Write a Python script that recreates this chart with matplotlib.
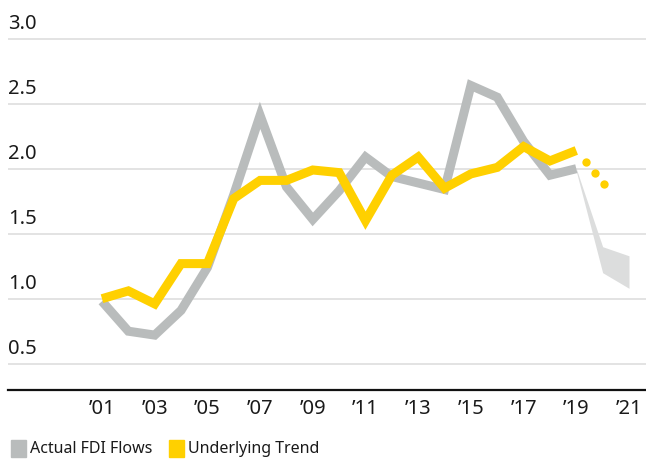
import matplotlib
matplotlib.use("Agg")
import matplotlib.pyplot as plt
from matplotlib.patches import Patch

plt.rcParams['font.family'] = ['Noto Sans', 'DejaVu Sans']

years = list(range(2001, 2020))
actual = [0.98, 0.75, 0.72, 0.91, 1.24, 1.80, 2.41, 1.86, 1.61, 1.83, 2.09,
          1.94, 1.89, 1.84, 2.64, 2.55, 2.21, 1.95, 2.00]
trend = [1.00, 1.06, 0.96, 1.27, 1.27, 1.77, 1.91, 1.91, 1.99, 1.97, 1.60,
         1.95, 2.09, 1.85, 1.96, 2.01, 2.17, 2.06, 2.14]
proj_years = [2019, 2020, 2021]
proj_low = [1.98, 1.20, 1.08]
proj_high = [2.00, 1.40, 1.33]
dot_years = [2019.35, 2019.7, 2020.05]
dot_vals = [2.05, 1.97, 1.88]
yticks = [0.5, 1.0, 1.5, 2.0, 2.5, 3.0]
xticks = [2001, 2003, 2005, 2007, 2009, 2011, 2013, 2015, 2017, 2019, 2021]
xlabels = ["\u201901", "\u201903", "\u201905", "\u201907", "\u201909", "\u201911",
           "\u201913", "\u201915", "\u201917", "\u201919", "\u201921"]

GRAY = "#b9bcbc"
YELLOW = "#ffd000"
SHADE = "#dcdddd"
TEXT = "#1a1a1a"
W, H = 646, 459

fig = plt.figure(figsize=(W / 100, H / 100), dpi=100)
ax_bottom = 389.7
ax_top = 30
ax = fig.add_axes([8 / W, (H - ax_bottom) / H, (W - 8) / W, (ax_bottom - ax_top) / H])
ax.set_xlim(2001 - 94 / 26.35, 2001 + (W - 8 - 94) / 26.35)
ax.set_ylim(0.3, 0.3 + (ax_bottom - ax_top) / 130)

for s in ['top', 'right', 'left']:
    ax.spines[s].set_visible(False)
ax.spines['bottom'].set_linewidth(1.6)
ax.spines['bottom'].set_color('#111111')

for v in yticks:
    ax.axhline(v, color="#e1e1e1", lw=1.3, zorder=0)
    ax.annotate(f"{v:.1f}", xy=(0, v), xycoords=('axes fraction', 'data'),
                xytext=(0, 6.8), textcoords='offset points', va='baseline', ha='left',
                fontsize=14.5, color=TEXT)

ax.set_yticks([])
ax.set_xticks(xticks)
ax.set_xticklabels(xlabels, fontsize=14.5, color=TEXT)
ax.tick_params(axis='x', length=0, pad=6.5)

ax.fill_between(proj_years, proj_low, proj_high, color=SHADE, lw=0, zorder=1)
ax.plot(years, actual, color=GRAY, lw=6.5, solid_joinstyle='miter',
        solid_capstyle='butt', zorder=2)
ax.plot(years, trend, color=YELLOW, lw=6.5, solid_joinstyle='miter',
        solid_capstyle='butt', zorder=3)
ax.scatter(dot_years, dot_vals, s=36, color=YELLOW, lw=0, zorder=3)

handles = [Patch(color=GRAY, label="Actual FDI Flows"),
           Patch(color=YELLOW, label="Underlying Trend")]
fig.legend(handles=handles, loc='lower left', bbox_to_anchor=(0.0, -0.021),
           ncol=2, frameon=False, fontsize=11.5, handlelength=0.95,
           handleheight=1.25, handletextpad=0.25, columnspacing=1.0,
           borderaxespad=0.3, labelcolor=TEXT)

fig.savefig("out.png", dpi=100)
